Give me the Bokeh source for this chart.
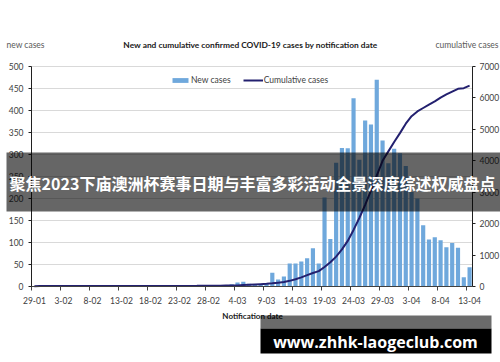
from bokeh.plotting import figure
from bokeh.models import (Range1d, LinearAxis, FixedTicker, Label, BoxAnnotation,
                          Legend, LegendItem, ColumnDataSource)
from bokeh.embed import file_html
from bokeh.resources import INLINE

# ---------------- data ----------------
tick_labels = ["29-01", "3-02", "8-02", "13-02", "18-02", "23-02", "28-02", "4-03",
               "9-03", "14-03", "19-03", "24-03", "29-03", "3-04", "8-04", "13-04"]
tick_days = [0, 5, 10, 15, 20, 25, 30, 35, 40, 45, 50, 55, 60, 65, 70, 75]

new_cases = [0, 3, 1, 0, 0, 0, 0, 0, 0, 0,
             0, 0, 0, 0, 0, 0, 0, 0, 0, 0,
             0, 0, 0, 0, 0, 0, 3, 1, 0, 1,
             2, 2, 3, 2, 5, 9, 11, 6, 4, 5,
             8, 31, 16, 23, 52, 52, 57, 64, 87, 52,
             202, 108, 281, 315, 314, 428, 288, 377, 368, 470,
             332, 280, 313, 303, 274, 215, 200, 139, 107, 112,
             105, 89, 99, 88, 21, 44]

cumulative = [9, 12, 12, 12, 13, 13, 14, 15, 15, 15,
              15, 15, 15, 15, 15, 15, 15, 15, 15, 15,
              15, 15, 15, 15, 15, 16, 18, 19, 20, 22,
              24, 25, 27, 29, 31, 35, 45, 55, 65, 75,
              85, 100, 120, 140, 180, 230, 290, 360, 430, 490,
              620, 770, 950, 1180, 1450, 1800, 2180, 2600, 3050, 3530,
              4000, 4300, 4600, 4880, 5180, 5420, 5570, 5680, 5790, 5890,
              6010, 6110, 6200, 6290, 6310, 6390]

left_ticks = [0, 50, 100, 150, 200, 250, 300, 350, 400, 450, 500]
right_ticks = [0, 1000, 2000, 3000, 4000, 5000, 6000, 7000]

title_text = "New and cumulative confirmed COVID-19 cases by notification date"
banner_text = "聚焦2023下庙澳洲杯赛事日期与丰富多彩活动全景深度综述权威盘点"
watermark_text = "www.zhhk-laogeclub.com"

# ---------------- layout helpers ----------------
W, H = 500, 362
FL, FR, FT, FB = 31, 472, 66, 286          # plot-area edges in px
NDAYS = len(new_cases)
YMAX = 500
CMAX = 7000

def dx(px):
    return (px - FL) / (FR - FL) * NDAYS

def dy(py):
    return (FB - py) / (FB - FT) * YMAX

def dc(py):
    return (FB - py) / (FB - FT) * CMAX

xs = [i + 0.5 for i in range(NDAYS)]
src = ColumnDataSource(dict(x=xs, new=new_cases, cum=cumulative))

p = figure(width=W, height=H, output_backend="svg", toolbar_location=None,
           x_range=Range1d(dx(0), dx(W)), y_range=Range1d(dy(H), dy(0)),
           min_border_left=0, min_border_right=0, min_border_top=0, min_border_bottom=0)
p.outline_line_color = None
p.background_fill_color = "white"
p.border_fill_color = "white"
p.extra_y_ranges = {"cum": Range1d(dc(H), dc(0))}

AX_COL = "#404040"
FONT = "Lato"

# x axis (drawn at y = 0)
xa = p.xaxis[0]
xa.fixed_location = 0
xa.bounds = (0, NDAYS)
xa.ticker = FixedTicker(ticks=[d + 0.5 for d in tick_days], minor_ticks=tick_days)
xa.major_label_overrides = {d + 0.5: lab for d, lab in zip(tick_days, tick_labels)}
xa.major_tick_out = 0
xa.major_tick_in = 0
xa.minor_tick_out = 4
xa.minor_tick_in = 0
xa.minor_tick_line_color = AX_COL
xa.axis_line_color = AX_COL
xa.major_label_text_font = FONT
xa.major_label_text_font_size = "8.5px"
xa.major_label_text_color = AX_COL
xa.major_label_standoff = 6

# left axis (drawn at x = 0)
ya = p.yaxis[0]
ya.fixed_location = 0
ya.bounds = (0, YMAX)
ya.ticker = FixedTicker(ticks=left_ticks)
ya.major_tick_out = 3
ya.major_tick_in = 0
ya.minor_tick_line_color = None
ya.axis_line_color = "#202020"
ya.major_tick_line_color = "#202020"
ya.major_label_text_font = FONT
ya.major_label_text_font_size = "8.5px"
ya.major_label_text_color = AX_COL
ya.major_label_standoff = 5

# right axis (drawn at x = NDAYS)
ra = LinearAxis(y_range_name="cum", ticker=FixedTicker(ticks=right_ticks),
                fixed_location=NDAYS, bounds=(0, CMAX))
ra.major_tick_out = 3
ra.major_tick_in = 0
ra.minor_tick_line_color = None
ra.axis_line_color = "#202020"
ra.major_tick_line_color = "#202020"
ra.major_label_text_font = FONT
ra.major_label_text_font_size = "8.5px"
ra.major_label_text_color = AX_COL
ra.major_label_standoff = 4
p.add_layout(ra, "right")

p.xgrid.visible = False
yg = p.ygrid[0]
yg.ticker = FixedTicker(ticks=left_ticks[1:])
yg.grid_line_color = "#d9d9d9"
yg.grid_line_width = 1
yg.bounds = (0, YMAX)
if "cross_bounds" in yg.properties():
    yg.cross_bounds = (0, NDAYS)
else:
    yg.visible = False
    p.segment(x0=[0] * 10, x1=[NDAYS] * 10, y0=left_ticks[1:], y1=left_ticks[1:],
              line_color="#d9d9d9", line_width=1)

bars = p.vbar(x="x", top="new", width=0.72, source=src,
              fill_color="#6FA8DC", line_color=None)
line = p.line(x="x", y="cum", source=src, y_range_name="cum",
              line_color="#23206f", line_width=2)

legend = Legend(items=[LegendItem(label="New cases", renderers=[bars]),
                       LegendItem(label="Cumulative cases", renderers=[line])],
                orientation="horizontal", location=(170, H - 84.5),
                padding=0, margin=0, spacing=12, label_standoff=1,
                glyph_width=20, glyph_height=6, label_height=10,
                border_line_color=None, background_fill_alpha=0,
                label_text_font=FONT, label_text_font_size="8.5px",
                label_text_color=AX_COL)
p.add_layout(legend)

def add_label(px, py, text, size, color="#404040", bold=False, align="center",
              font=FONT, level="annotation"):
    lab = Label(x=dx(px), y=dy(py), text=text, text_align=align,
                text_baseline="middle", text_font=font,
                text_font_size=size, text_color=color,
                text_font_style="bold" if bold else "normal", level=level)
    p.add_layout(lab)

add_label(250, 44, title_text, "8.4px", color="#202020", bold=True)
add_label(6, 44, "new cases", "8.5px", color="#595959", align="left")
add_label(498, 44, "cumulative cases", "8.5px", color="#595959", align="right")
add_label(252, 315, "Notification date", "8px", color="#202020", bold=True)

# overlays
p.add_layout(BoxAnnotation(left=dx(6), right=dx(W), top=dy(152), bottom=dy(211),
                           fill_color="black", fill_alpha=0.6, line_color=None,
                           level="overlay"))
add_label(252, 182.5, banner_text, "16px", color="white", bold=True,
          font="Noto Sans CJK SC", level="overlay")
p.add_layout(BoxAnnotation(left=dx(260), right=dx(491), top=dy(315), bottom=dy(328),
                           fill_color="black", fill_alpha=0.58, line_color=None,
                           level="overlay"))
p.add_layout(BoxAnnotation(left=dx(260), right=dx(491), top=dy(328), bottom=dy(353),
                           fill_color="black", fill_alpha=1.0, line_color=None,
                           level="overlay"))
add_label(375, 341, watermark_text, "16px", color="white", bold=True,
          font="Open Sans", level="overlay")

open("out.html", "w").write(file_html(p, INLINE))
